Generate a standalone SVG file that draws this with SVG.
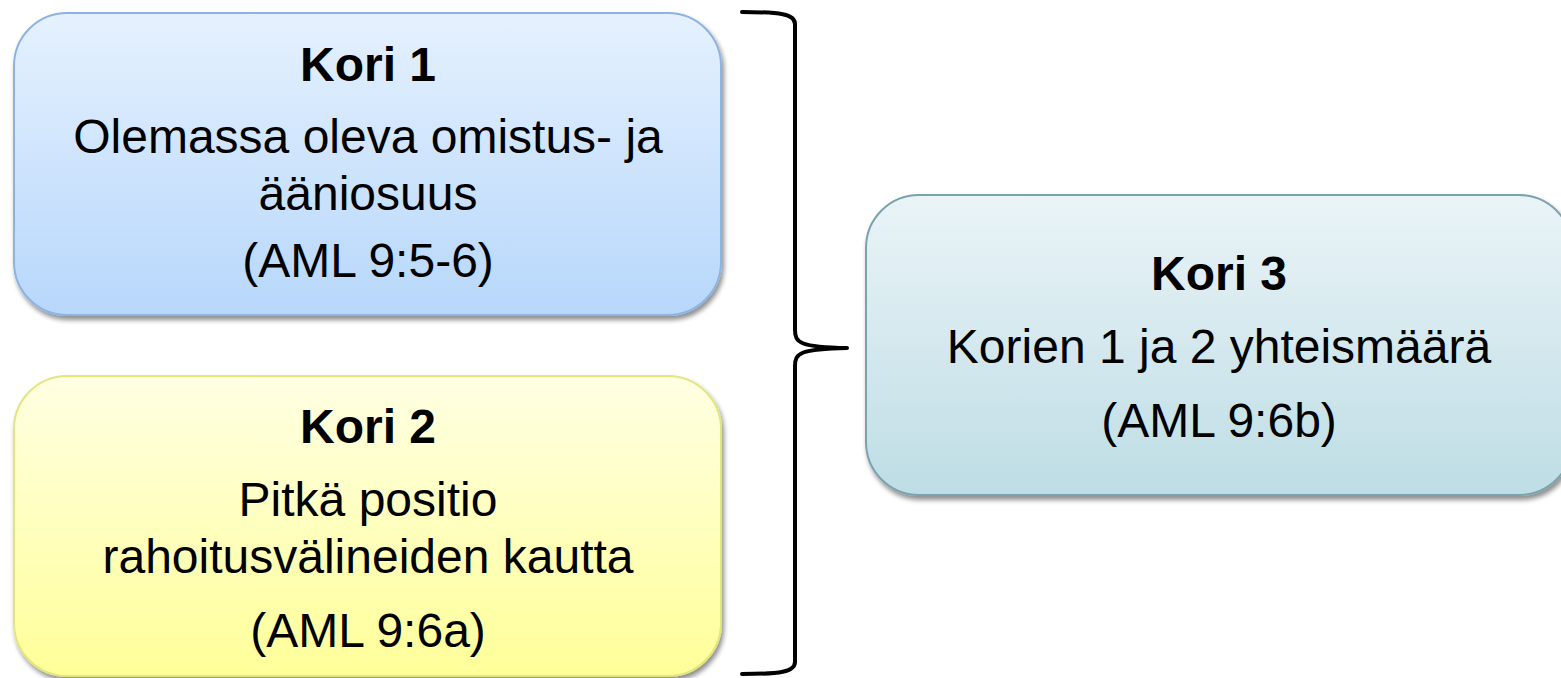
<svg xmlns="http://www.w3.org/2000/svg" width="1561" height="678" viewBox="0 0 1561 678">
  <style>
    .t { font-family: "Liberation Sans", Arial, sans-serif; font-size: 48px; fill: #000; text-anchor: middle; }
    .b { font-weight: bold; }
    .box { stroke-width: 2; filter: url(#sh); }
    .brace { fill: none; stroke: #000; stroke-width: 4; stroke-linecap: round; stroke-linejoin: round; }
  </style>
  <defs>
    <linearGradient id="g1" x1="0" y1="0" x2="0" y2="1">
      <stop offset="0" stop-color="#E5F1FE"/>
      <stop offset="1" stop-color="#B7D7FB"/>
    </linearGradient>
    <linearGradient id="g2" x1="0" y1="0" x2="0" y2="1">
      <stop offset="0" stop-color="#FFFFE3"/>
      <stop offset="1" stop-color="#FFFF99"/>
    </linearGradient>
    <linearGradient id="g3" x1="0" y1="0" x2="0" y2="1">
      <stop offset="0" stop-color="#EAF4F7"/>
      <stop offset="1" stop-color="#BEDDE5"/>
    </linearGradient>
    <filter id="sh" x="-5%" y="-5%" width="110%" height="115%">
      <feGaussianBlur in="SourceAlpha" stdDeviation="2.5"/>
      <feOffset dx="2" dy="4" result="o"/>
      <feComponentTransfer><feFuncA type="linear" slope="0.45"/></feComponentTransfer>
      <feMerge><feMergeNode/><feMergeNode in="SourceGraphic"/></feMerge>
    </filter>
  </defs>

  <g id="kori1">
    <rect class="box" x="14" y="13" width="707" height="302" rx="53" ry="53" fill="url(#g1)" stroke="#8DB3E2"/>
    <text class="t b" x="368" y="81">Kori 1</text>
    <text class="t" x="368" y="153">Olemassa oleva omistus- ja</text>
    <text class="t" x="368" y="210">ääniosuus</text>
    <text class="t" x="368" y="277">(AML 9:5-6)</text>
  </g>

  <g id="kori2">
    <rect class="box" x="14" y="376" width="707" height="300" rx="53" ry="53" fill="url(#g2)" stroke="#E3E67A"/>
    <text class="t b" x="368" y="443">Kori 2</text>
    <text class="t" x="368" y="516">Pitkä positio</text>
    <text class="t" x="368" y="573">rahoitusvälineiden kautta</text>
    <text class="t" x="368" y="647">(AML 9:6a)</text>
  </g>

  <g id="kori3">
    <rect class="box" x="866" y="195" width="706" height="300" rx="53" ry="53" fill="url(#g3)" stroke="#7AA3AE"/>
    <text class="t b" x="1219" y="290">Kori 3</text>
    <text class="t" x="1219" y="363">Korien 1 ja 2 yhteismäärä</text>
    <text class="t" x="1219" y="437">(AML 9:6b)</text>
  </g>

  <g id="connectors">
    <path class="brace" d="M742 12 C780 12 795 14 795 24 L795 330 C795 343 800 347 847 348 C800 349 795 353 795 366 L795 662 C795 672 780 674 742 674"/>
  </g>
</svg>
